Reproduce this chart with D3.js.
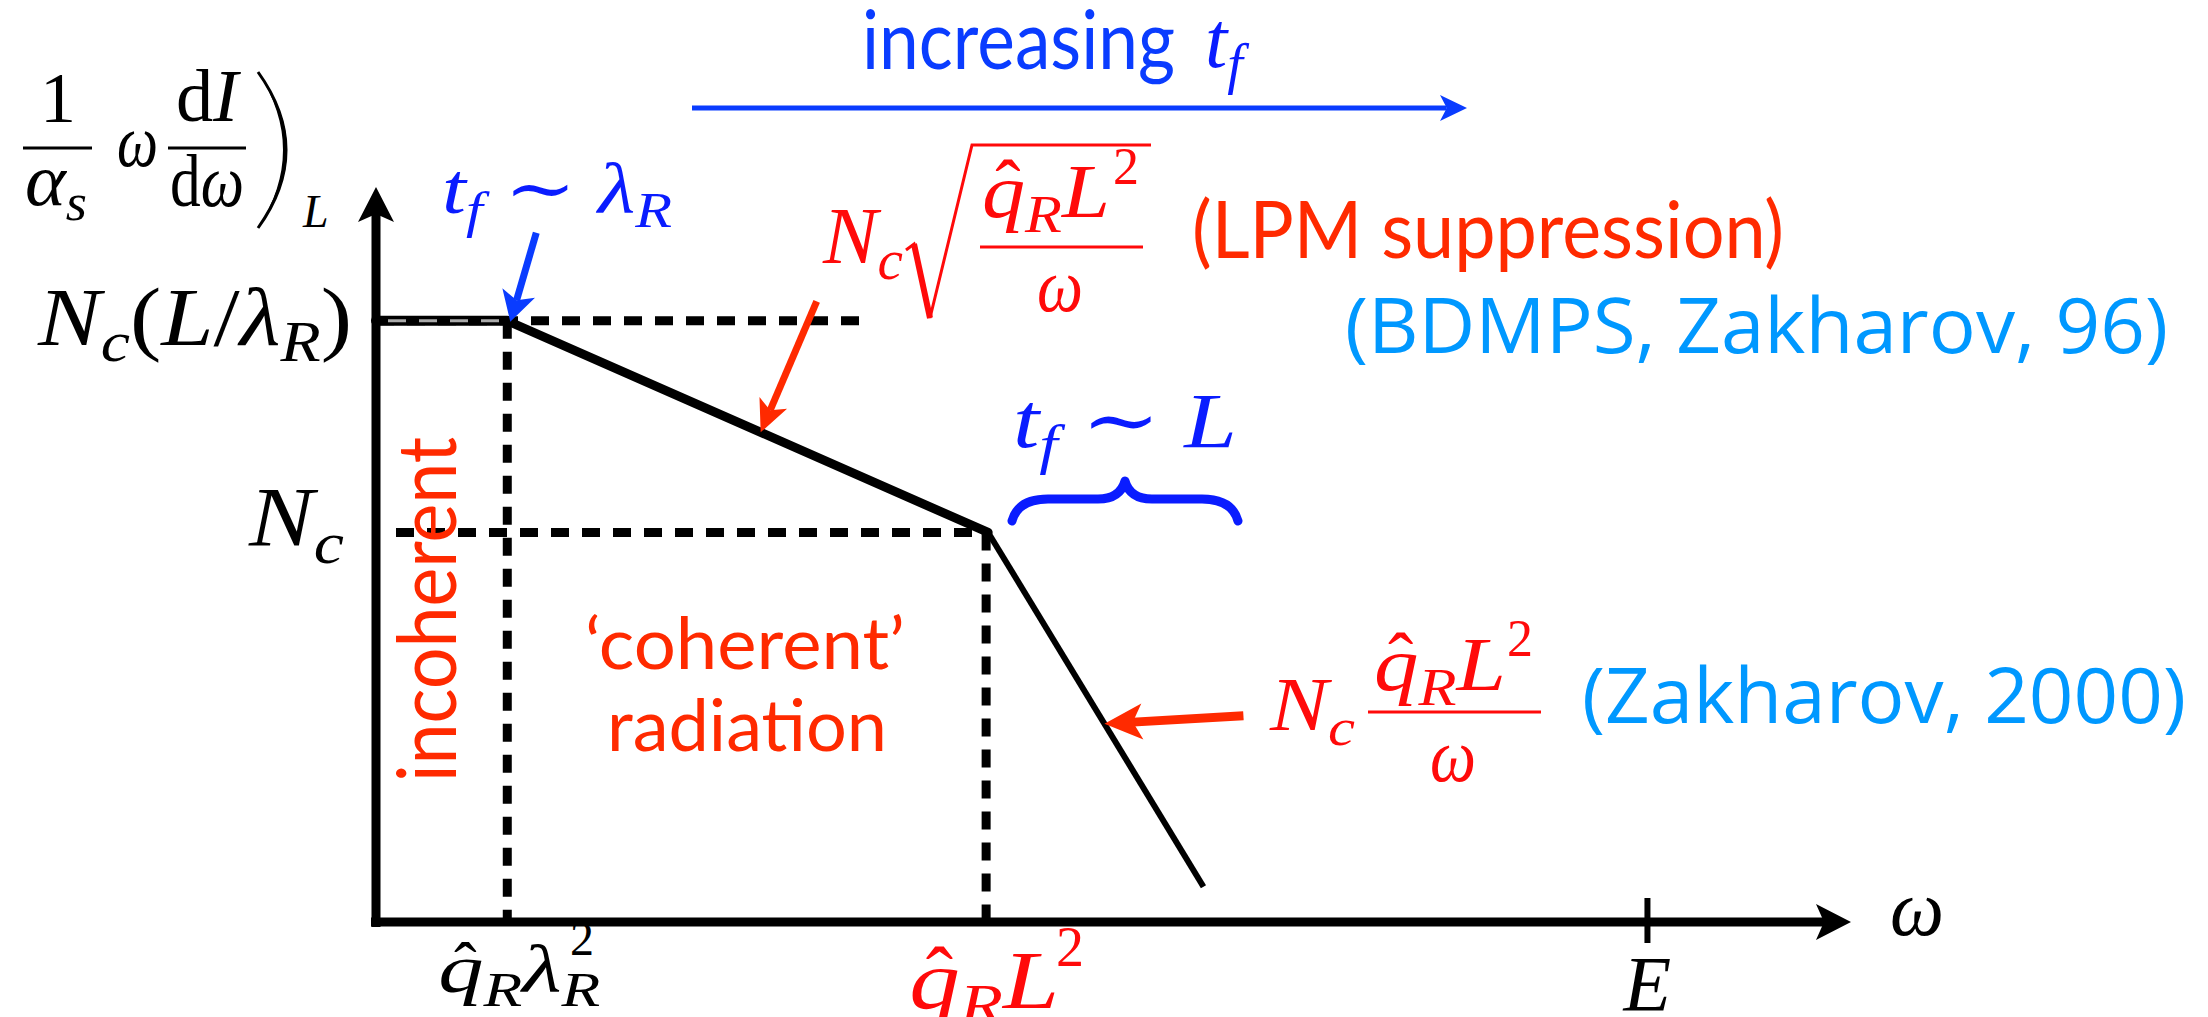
<!DOCTYPE html>
<html lang="en">
<head>
  <meta charset="UTF-8">
  <title>Medium-induced gluon spectrum</title>
  <script src="https://d3js.org/d3.v7.min.js"></script>
  <style>
    body
    {
      margin: 0;
      padding: 0;
      background-color: #fff;
    }

    svg
    {
      display: block;
      background-color: #fff;
    }
  </style>
</head>
<body>
  <svg width="2208" height="1017"></svg>
  <script>
    // spectrum in arbitrary units (omega along x, intensity along y)
    const curveX = [0, 0.89, 4.15, 5.61];
    const curveY = [8.18, 8.18, 5.3, 0.48];
    // characteristic levels and frequencies
    const levelValues = [8.18, 5.3];
    const scaleValues = [0.89, 4.15];
    const topGuideEnd = 3.3;
    const tickE = 8.62;

    const width = 2208;
    const height = 1017;

    const SERIF = "'Liberation Serif', 'DejaVu Serif', serif";
    const SANS = "Lato, 'Open Sans', sans-serif";
    const ROUND = "'Open Sans', 'DejaVu Sans', sans-serif";

    const BLUE = "#0a1cff";
    const BLUE2 = "#0a3cff";
    const RED = "#ff0a0a";
    const RED2 = "#ff2a00";
    const CYAN = "#0098ff";

    const svg = d3.select("svg").attr("viewBox", [0, 0, width, height]);

    const x = d3.scaleLinear().domain([0, 10]).range([376, 1851]);
    const y = d3.scaleLinear().domain([0, 10]).range([922, 187]);

    function arrow(g, x0, y0, x1, y1, color, w, len, half) {
      const dx = x1 - x0, dy = y1 - y0;
      const L = Math.hypot(dx, dy);
      const ux = dx / L, uy = dy / L;
      const bx = x1 - ux * len, by = y1 - uy * len;
      const nx = x1 - ux * len * 0.75, ny = y1 - uy * len * 0.75;
      g.append("line")
        .attr("x1", x0).attr("y1", y0)
        .attr("x2", nx).attr("y2", ny)
        .attr("stroke", color).attr("stroke-width", w);
      g.append("path")
        .attr("d", `M${x1},${y1}L${bx - uy * half},${by + ux * half}L${nx},${ny}L${bx + uy * half},${by - ux * half}Z`)
        .attr("fill", color);
    }

    function mathLabel(parent, parts, o) {
      const text = parent.append("text")
        .attr("x", o.x).attr("y", o.y)
        .attr("font-family", SERIF)
        .attr("font-size", o.size)
        .attr("fill", o.color)
        .attr("text-anchor", o.anchor || "start");
      let cur = 0, idx = 0;
      const hats = [];
      parts.forEach(p => {
        const off = p.sub ? 0.2 * o.size : p.sup ? -0.42 * o.size : 0;
        const span = text.append("tspan").text(p.t)
          .attr("dy", off - cur)
          .attr("font-style", p.up ? "normal" : "italic");
        if (p.sub || p.sup) span.attr("font-size", o.size * 0.7);
        if (p.hat) hats.push(idx);
        cur = off;
        idx += p.t.length;
      });
      if (o.width) text.attr("textLength", o.width).attr("lengthAdjust", "spacingAndGlyphs");
      hats.forEach(i => {
        const e = text.node().getExtentOfChar(i);
        parent.append("text")
          .attr("x", e.x + e.width * 0.6)
          .attr("y", o.y - o.size * 0.05)
          .attr("text-anchor", "middle")
          .attr("font-family", SERIF)
          .attr("font-size", o.size)
          .attr("fill", o.color)
          .text("\u02C6");
      });
      return text;
    }

    // dashed guide lines
    const guides = svg.append("g")
      .attr("stroke", "#000")
      .attr("stroke-width", 9)
      .attr("stroke-dasharray", "18,13");
    guides.append("line")
      .attr("x1", x(0)).attr("x2", x(topGuideEnd))
      .attr("y1", y(levelValues[0])).attr("y2", y(levelValues[0]));
    guides.append("line")
      .attr("x1", x(scaleValues[0])).attr("x2", x(scaleValues[0]))
      .attr("y1", y(levelValues[0])).attr("y2", y(0));
    guides.append("line")
      .attr("x1", x(0) + 20).attr("x2", x(scaleValues[1]))
      .attr("y1", y(levelValues[1])).attr("y2", y(levelValues[1]));
    guides.append("line")
      .attr("x1", x(scaleValues[1]) - 2).attr("x2", x(scaleValues[1]) - 2)
      .attr("y1", y(levelValues[1])).attr("y2", y(0));

    // spectrum
    const pts = curveX.map((v, i) => [x(v), y(curveY[i])]);
    const segWidths = [10, 9, 6];
    d3.pairs(pts).forEach(([a, b], i) => {
      svg.append("line")
        .attr("x1", a[0]).attr("y1", a[1])
        .attr("x2", b[0]).attr("y2", b[1])
        .attr("stroke", "#000")
        .attr("stroke-width", segWidths[i])
        .attr("stroke-linecap", i === 2 ? "butt" : "round");
    });
    // faint dashes showing through the plateau
    svg.append("line")
      .attr("x1", x(0) + 12).attr("x2", pts[1][0] - 8)
      .attr("y1", pts[1][1]).attr("y2", pts[1][1])
      .attr("stroke", "#aaa").attr("stroke-width", 3)
      .attr("stroke-dasharray", "18,13");

    // axes
    const axes = svg.append("g");
    axes.append("line")
      .attr("x1", x(0)).attr("x2", x(0))
      .attr("y1", y(0) + 5).attr("y2", y(10) + 20)
      .attr("stroke", "#000").attr("stroke-width", 9);
    axes.append("path")
      .attr("d", `M${x(0)},${y(10)}L${x(0) - 18},${y(10) + 35}L${x(0)},${y(10) + 27}L${x(0) + 18},${y(10) + 35}Z`);
    axes.append("line")
      .attr("x1", x(0) - 5).attr("x2", x(10) - 20)
      .attr("y1", y(0)).attr("y2", y(0))
      .attr("stroke", "#000").attr("stroke-width", 9);
    axes.append("path")
      .attr("d", `M${x(10)},${y(0)}L${x(10) - 35},${y(0) - 18}L${x(10) - 27},${y(0)}L${x(10) - 35},${y(0) + 18}Z`);
    axes.append("line")
      .attr("x1", x(tickE)).attr("x2", x(tickE))
      .attr("y1", y(0) - 24).attr("y2", y(0) + 21)
      .attr("stroke", "#000").attr("stroke-width", 6);

    // y-axis title
    const yt = svg.append("g");
    mathLabel(yt, [{t: "1", up: true}], {x: 58, y: 122, size: 72, color: "#000", anchor: "middle"});
    yt.append("line").attr("x1", 23).attr("x2", 92).attr("y1", 148).attr("y2", 148)
      .attr("stroke", "#000").attr("stroke-width", 3);
    mathLabel(yt, [{t: "α"}, {t: "s", sub: true}], {x: 25, y: 205, size: 74, color: "#000", width: 62});
    mathLabel(yt, [{t: "ω"}], {x: 117, y: 166, size: 74, color: "#000", width: 41});
    mathLabel(yt, [{t: "d", up: true}, {t: "I"}], {x: 207, y: 121, size: 74, color: "#000", anchor: "middle", width: 62});
    yt.append("line").attr("x1", 168).attr("x2", 246).attr("y1", 148).attr("y2", 148)
      .attr("stroke", "#000").attr("stroke-width", 3);
    mathLabel(yt, [{t: "d", up: true}, {t: "ω"}], {x: 207, y: 206, size: 74, color: "#000", anchor: "middle", width: 74});
    yt.append("path")
      .attr("d", "M258,72Q314,150 258,228")
      .attr("fill", "none").attr("stroke", "#000").attr("stroke-width", 3);
    yt.append("path")
      .attr("d", "M258,72Q316,150 258,228Q308,150 258,72Z")
      .attr("fill", "#000");
    mathLabel(yt, [{t: "L"}], {x: 303, y: 227, size: 46, color: "#000"});

    // level labels
    mathLabel(svg, [{t: "N"}, {t: "c", sub: true}, {t: "(", up: true}, {t: "L"}, {t: "/", up: true}, {t: "λ"}, {t: "R", sub: true}, {t: ")", up: true}],
      {x: 38, y: y(levelValues[0]) + 24, size: 82, color: "#000", width: 314});
    mathLabel(svg, [{t: "N"}, {t: "c", sub: true}],
      {x: 249, y: y(levelValues[1]) + 14, size: 84, color: "#000", width: 95});

    // frequency labels
    mathLabel(svg, [{t: "q", hat: true}, {t: "R", sub: true}, {t: "λ"}, {t: "R", sub: true}],
      {x: x(scaleValues[0]) + 12, y: 992, size: 68, color: "#000", anchor: "middle", width: 162});
    svg.append("text").attr("x", 570).attr("y", 955)
      .attr("font-family", SERIF).attr("font-size", 48).text("2");
    mathLabel(svg, [{t: "q", hat: true}, {t: "R", sub: true}, {t: "L"}],
      {x: x(scaleValues[1]) - 4, y: 1008, size: 82, color: RED, anchor: "middle", width: 150});
    svg.append("text").attr("x", 1056).attr("y", 966)
      .attr("font-family", SERIF).attr("font-size", 56).attr("fill", RED).text("2");
    mathLabel(svg, [{t: "E"}], {x: x(tickE), y: 1010, size: 78, color: "#000", anchor: "middle"});
    mathLabel(svg, [{t: "ω"}], {x: 1890, y: 935, size: 80, color: "#000", width: 54});

    // increasing t_f
    svg.append("text")
      .attr("x", 862).attr("y", 69)
      .attr("font-family", SANS).attr("font-size", 82)
      .attr("fill", BLUE2)
      .attr("textLength", 313).attr("lengthAdjust", "spacingAndGlyphs")
      .text("increasing");
    mathLabel(svg, [{t: "t"}, {t: "f", sub: true}], {x: 1205, y: 67, size: 80, color: BLUE});
    arrow(svg, 692, 108, 1467, 108, BLUE2, 5, 27, 13);

    // t_f ~ lambda_R
    mathLabel(svg, [{t: "t"}, {t: "f", sub: true}, {t: " ∼ ", up: true}, {t: "λ"}, {t: "R", sub: true}],
      {x: 442, y: 213, size: 72, color: BLUE, width: 230});
    arrow(svg, pts[1][0] + 29, pts[1][1] - 88, pts[1][0] + 3, pts[1][1] + 1, BLUE2, 7, 30, 17);

    // LPM regime
    const lpmTip = [pts[1][0] + (pts[2][0] - pts[1][0]) * 0.527, pts[1][1] + (pts[2][1] - pts[1][1]) * 0.527];
    arrow(svg, lpmTip[0] + 56, lpmTip[1] - 131, lpmTip[0], lpmTip[1], RED2, 7, 32, 15);
    mathLabel(svg, [{t: "N"}, {t: "c", sub: true}], {x: 823, y: 263, size: 80, color: RED, width: 80});
    svg.append("path")
      .attr("d", "M906,250L914,244L930,318L972,145L1151,145")
      .attr("fill", "none").attr("stroke", RED).attr("stroke-width", 3);
    svg.append("path")
      .attr("d", "M914,244L930,318")
      .attr("fill", "none").attr("stroke", RED).attr("stroke-width", 6);
    mathLabel(svg, [{t: "q", hat: true}, {t: "R", sub: true}, {t: "L"}], {x: 1046, y: 217, size: 76, color: RED, anchor: "middle", width: 128});
    svg.append("text").attr("x", 1113).attr("y", 184)
      .attr("font-family", SERIF).attr("font-size", 52).attr("fill", RED).text("2");
    svg.append("line").attr("x1", 980).attr("x2", 1143).attr("y1", 247).attr("y2", 247)
      .attr("stroke", RED).attr("stroke-width", 3);
    mathLabel(svg, [{t: "ω"}], {x: 1060, y: 311, size: 76, color: RED, anchor: "middle", width: 46});
    svg.append("text")
      .attr("x", 1192).attr("y", 258)
      .attr("font-family", SANS).attr("font-size", 80).attr("fill", RED2)
      .attr("textLength", 592).attr("lengthAdjust", "spacingAndGlyphs")
      .text("(LPM suppression)");
    svg.append("text")
      .attr("x", 1345).attr("y", 353)
      .attr("font-family", ROUND).attr("font-size", 76).attr("fill", CYAN)
      .attr("textLength", 823).attr("lengthAdjust", "spacingAndGlyphs")
      .text("(BDMPS, Zakharov, 96)");

    // t_f ~ L and brace
    mathLabel(svg, [{t: "t"}, {t: "f", sub: true}, {t: " ∼ ", up: true}, {t: "L"}],
      {x: 1013, y: 447, size: 78, color: BLUE, width: 224});
    svg.append("path")
      .attr("d", "M1012,521Q1018,499 1048,499L1098,499Q1120,499 1125,481Q1130,499 1152,499L1202,499Q1232,499 1238,521")
      .attr("fill", "none").attr("stroke", BLUE).attr("stroke-width", 9)
      .attr("stroke-linecap", "round").attr("stroke-linejoin", "round");

    // Zakharov 2000 regime
    const zTip = [pts[2][0] + (pts[3][0] - pts[2][0]) * 0.54, pts[2][1] + (pts[3][1] - pts[2][1]) * 0.54];
    arrow(svg, zTip[0] + 139, zTip[1] - 8, zTip[0], zTip[1], RED2, 9, 38, 18);
    mathLabel(svg, [{t: "N"}, {t: "c", sub: true}], {x: 1270, y: 730, size: 76, color: RED, width: 85});
    mathLabel(svg, [{t: "q", hat: true}, {t: "R", sub: true}, {t: "L"}], {x: 1440, y: 690, size: 76, color: RED, anchor: "middle", width: 132});
    svg.append("text").attr("x", 1507).attr("y", 656)
      .attr("font-family", SERIF).attr("font-size", 52).attr("fill", RED).text("2");
    svg.append("line").attr("x1", 1368).attr("x2", 1541).attr("y1", 712).attr("y2", 712)
      .attr("stroke", RED).attr("stroke-width", 3);
    mathLabel(svg, [{t: "ω"}], {x: 1453, y: 781, size: 76, color: RED, anchor: "middle", width: 46});
    svg.append("text")
      .attr("x", 1582).attr("y", 723)
      .attr("font-family", ROUND).attr("font-size", 76).attr("fill", CYAN)
      .attr("textLength", 604).attr("lengthAdjust", "spacingAndGlyphs")
      .text("(Zakharov, 2000)");

    // region labels
    svg.append("text")
      .attr("transform", "translate(456,782) rotate(-90)")
      .attr("font-family", SANS).attr("font-size", 82).attr("fill", RED2)
      .attr("textLength", 345).attr("lengthAdjust", "spacingAndGlyphs")
      .text("incoherent");
    svg.append("text")
      .attr("x", 745).attr("y", 669).attr("text-anchor", "middle")
      .attr("font-family", SANS).attr("font-size", 72).attr("fill", RED2)
      .attr("textLength", 320).attr("lengthAdjust", "spacingAndGlyphs")
      .text("\u2018coherent\u2019");
    svg.append("text")
      .attr("x", 747).attr("y", 751).attr("text-anchor", "middle")
      .attr("font-family", SANS).attr("font-size", 72).attr("fill", RED2)
      .attr("textLength", 280).attr("lengthAdjust", "spacingAndGlyphs")
      .text("radiation");
  </script>
</body>
</html>
